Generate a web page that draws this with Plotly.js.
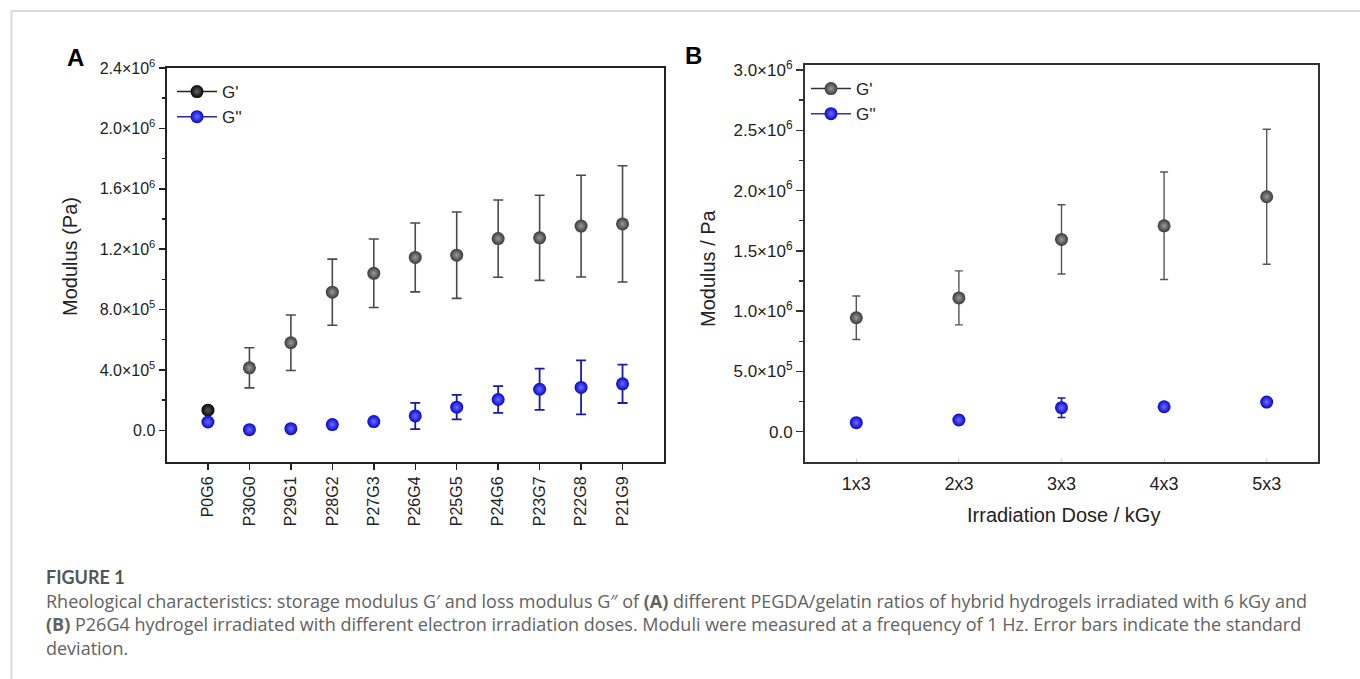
<!DOCTYPE html>
<html>
<head>
<meta charset="utf-8">
<script src="https://cdn.plot.ly/plotly-3.0.1.min.js"></script>
<style>
  html, body { margin: 0; padding: 0; background: #ffffff; }
  #chart { width: 1360px; height: 679px; }
</style>
</head>
<body>
<div id="chart"></div>
<script>
// ---- Panel A data: PEGDA/gelatin ratios (6 kGy) ----
const labelsA = ['P0G6','P30G0','P29G1','P28G2','P27G3','P26G4','P25G5','P24G6','P23G7','P22G8','P21G9'];
const gPrimeA = [1.33e5, 4.14e5, 5.80e5, 9.15e5, 1.04e6, 1.145e6, 1.16e6, 1.27e6, 1.275e6, 1.353e6, 1.367e6];
const gPrimeA_sd = [0, 1.33e5, 1.84e5, 2.19e5, 2.27e5, 2.28e5, 2.86e5, 2.56e5, 2.82e5, 3.37e5, 3.85e5];
const gDoubleA = [5.5e4, 4e3, 1.1e4, 3.8e4, 5.8e4, 9.5e4, 1.53e5, 2.04e5, 2.72e5, 2.84e5, 3.08e5];
const gDoubleA_sd = [0, 0, 0, 0, 0, 8.7e4, 8.1e4, 8.8e4, 1.37e5, 1.79e5, 1.27e5];

// ---- Panel B data: P26G4 at different irradiation doses ----
const dosesB = ['1x3','2x3','3x3','4x3','5x3'];
const gPrimeB = [9.45e5, 1.11e6, 1.595e6, 1.708e6, 1.949e6];
const gPrimeB_sd = [1.8e5, 2.24e5, 2.87e5, 4.46e5, 5.6e5];
const gDoubleB = [7.5e4, 9.7e4, 1.99e5, 2.07e5, 2.46e5];
const gDoubleB_sd = [1e4, 1e4, 8.1e4, 2e4, 2e4];

// ---- Tick labels ----
const yTickValsA = [0, 4e5, 8e5, 1.2e6, 1.6e6, 2.0e6, 2.4e6];
const yTickTextA = ['0.0', '4.0×10<sup>5</sup>', '8.0×10<sup>5</sup>', '1.2×10<sup>6</sup>', '1.6×10<sup>6</sup>', '2.0×10<sup>6</sup>', '2.4×10<sup>6</sup>'];
const yMinorA = [2e5, 6e5, 1.0e6, 1.4e6, 1.8e6, 2.2e6];
const yTickValsB = [0, 5e5, 1.0e6, 1.5e6, 2.0e6, 2.5e6, 3.0e6];
const yTickTextB = ['0.0', '5.0×10<sup>5</sup>', '1.0×10<sup>6</sup>', '1.5×10<sup>6</sup>', '2.0×10<sup>6</sup>', '2.5×10<sup>6</sup>', '3.0×10<sup>6</sup>'];
const yMinorB = [2.5e5, 7.5e5, 1.25e6, 1.75e6, 2.25e6, 2.75e6];

const captionLines = [
  'Rheological characteristics: storage modulus G′ and loss modulus G″ of <b>(A)</b> different PEGDA/gelatin ratios of hybrid hydrogels irradiated with 6 kGy and',
  '<b>(B)</b> P26G4 hydrogel irradiated with different electron irradiation doses. Moduli were measured at a frequency of 1 Hz. Error bars indicate the standard',
  'deviation.'
];

const W = 1360, H = 679;
const px = v => v / W;
const py = v => 1 - v / H;
const AX = '"Liberation Sans", Arial, sans-serif';
const CAP = '"Open Sans", Lato, sans-serif';

const grayMarker = {size: 13, color: '#3a3a3a', gradient: {type: 'radial', color: '#9a9a9a'}, line: {width: 0}};
const blueMarker = {size: 13, color: '#0606cc', gradient: {type: 'radial', color: '#6c6cff'}, line: {width: 0}};

const traces = [
  // Panel A
  {x: labelsA, y: gPrimeA, xaxis: 'x', yaxis: 'y', mode: 'markers', showlegend: false,
   error_y: {type: 'data', array: gPrimeA_sd, visible: true, color: '#4a4a4a', thickness: 1.6, width: 5},
   marker: {size: 13,
            color: labelsA.map((l, i) => i === 0 ? '#050505' : '#3a3a3a'),
            gradient: {type: 'radial', color: labelsA.map((l, i) => i === 0 ? '#555555' : '#9a9a9a')},
            line: {width: 0}}},
  {x: labelsA, y: gDoubleA, xaxis: 'x', yaxis: 'y', mode: 'markers', showlegend: false,
   error_y: {type: 'data', array: gDoubleA_sd, visible: true, color: '#1a1aa8', thickness: 1.8, width: 5},
   marker: blueMarker},
  // Panel A legend entries
  {x: [null], y: [null], xaxis: 'x', yaxis: 'y', mode: 'lines+markers', name: "G'", legend: 'legend',
   line: {color: '#222222', width: 1.5}, marker: {size: 13, color: '#050505', gradient: {type: 'radial', color: '#666666'}}},
  {x: [null], y: [null], xaxis: 'x', yaxis: 'y', mode: 'lines+markers', name: "G''", legend: 'legend',
   line: {color: '#2a2a90', width: 1.5}, marker: blueMarker},
  // Panel B
  {x: dosesB, y: gPrimeB, xaxis: 'x2', yaxis: 'y2', mode: 'markers', showlegend: false,
   error_y: {type: 'data', array: gPrimeB_sd, visible: true, color: '#555555', thickness: 1.4, width: 4},
   marker: grayMarker},
  {x: dosesB, y: gDoubleB, xaxis: 'x2', yaxis: 'y2', mode: 'markers', showlegend: false,
   error_y: {type: 'data', array: gDoubleB_sd, visible: true, color: '#1a1aa8', thickness: 1.6, width: 4},
   marker: blueMarker},
  // Panel B legend entries
  {x: [null], y: [null], xaxis: 'x2', yaxis: 'y2', mode: 'lines+markers', name: "G'", legend: 'legend2',
   line: {color: '#333333', width: 1.5}, marker: grayMarker},
  {x: [null], y: [null], xaxis: 'x2', yaxis: 'y2', mode: 'lines+markers', name: "G''", legend: 'legend2',
   line: {color: '#3030c8', width: 1.5}, marker: blueMarker}
];

const tickFont = {family: AX, size: 16, color: '#222'};

const layout = {
  width: W, height: H,
  margin: {l: 0, r: 0, t: 0, b: 0},
  paper_bgcolor: '#ffffff', plot_bgcolor: '#ffffff',
  showlegend: true,
  xaxis: {
    domain: [px(166.5), px(664)], anchor: 'y', type: 'category', range: [-1, 11],
    showgrid: false, zeroline: false, showline: true, mirror: true, linecolor: '#222', linewidth: 2,
    ticks: 'outside', ticklen: 6, tickwidth: 1.5, tickcolor: '#222', tickangle: -90,
    tickfont: tickFont
  },
  yaxis: {
    domain: [py(462), py(68)], anchor: 'x', range: [-2.1e5, 2.4e6],
    showgrid: false, zeroline: false, showline: true, mirror: true, linecolor: '#222', linewidth: 2,
    tickmode: 'array', tickvals: yTickValsA, ticktext: yTickTextA,
    ticks: 'outside', ticklen: 6, tickwidth: 1.5, tickcolor: '#222',
    minor: {tickmode: 'array', tickvals: yMinorA, ticks: 'outside', ticklen: 3, tickwidth: 1.5, tickcolor: '#222', showgrid: false},
    tickfont: tickFont
  },
  xaxis2: {
    domain: [px(805), px(1318)], anchor: 'y2', type: 'category', range: [-0.5, 4.5],
    showgrid: false, zeroline: false, showline: true, mirror: true, linecolor: '#333', linewidth: 2,
    ticks: 'inside', ticklen: 3, tickwidth: 1, tickcolor: '#cccccc', ticklabelstandoff: 5,
    tickfont: {family: AX, size: 18, color: '#222'}
  },
  yaxis2: {
    domain: [py(461.7), py(64.5)], anchor: 'x2', range: [-2.49e5, 3.046e6],
    showgrid: false, zeroline: false, showline: true, mirror: true, linecolor: '#333', linewidth: 2,
    tickmode: 'array', tickvals: yTickValsB, ticktext: yTickTextB,
    ticks: 'outside', ticklen: 7, tickwidth: 1.5, tickcolor: '#333',
    minor: {tickmode: 'array', tickvals: yMinorB, ticks: 'outside', ticklen: 4, tickwidth: 1.5, tickcolor: '#333', showgrid: false},
    tickfont: {family: AX, size: 17, color: '#222'}
  },
  legend: {
    x: px(172), y: py(74), xanchor: 'left', yanchor: 'top',
    bgcolor: 'rgba(0,0,0,0)', borderwidth: 0, tracegroupgap: 0, itemwidth: 40,
    font: {family: AX, size: 17, color: '#222'}
  },
  legend2: {
    x: px(806), y: py(71), xanchor: 'left', yanchor: 'top',
    bgcolor: 'rgba(0,0,0,0)', borderwidth: 0, tracegroupgap: 0, itemwidth: 40,
    font: {family: AX, size: 17, color: '#222'}
  },
  shapes: [
    {type: 'line', xref: 'paper', yref: 'paper', x0: px(11), x1: 1, y0: py(11), y1: py(11), line: {color: '#dadada', width: 2}},
    {type: 'line', xref: 'paper', yref: 'paper', x0: px(11.5), x1: px(11.5), y0: py(11), y1: 0, line: {color: '#dadada', width: 2}}
  ],
  annotations: [
    {text: '<b>A</b>', xref: 'paper', yref: 'paper', x: px(75), y: py(57), xanchor: 'center', yanchor: 'middle', showarrow: false,
     font: {family: AX, size: 24, color: '#000'}},
    {text: '<b>B</b>', xref: 'paper', yref: 'paper', x: px(693), y: py(55), xanchor: 'center', yanchor: 'middle', showarrow: false,
     font: {family: AX, size: 24, color: '#000'}},
    {text: 'Modulus (Pa)', xref: 'paper', yref: 'paper', x: px(70), y: py(257), xanchor: 'center', yanchor: 'middle', textangle: -90, showarrow: false,
     font: {family: AX, size: 20, color: '#222'}},
    {text: 'Modulus / Pa', xref: 'paper', yref: 'paper', x: px(708), y: py(268), xanchor: 'center', yanchor: 'middle', textangle: -90, showarrow: false,
     font: {family: AX, size: 20, color: '#222'}},
    {text: 'Irradiation Dose / kGy', xref: 'paper', yref: 'paper', x: px(1063), y: py(515), xanchor: 'center', yanchor: 'middle', showarrow: false,
     font: {family: AX, size: 20, color: '#222'}},
    {text: '<b>FIGURE 1</b>', xref: 'paper', yref: 'paper', x: px(44), y: py(577), xanchor: 'left', yanchor: 'middle', showarrow: false,
     font: {family: 'Lato, sans-serif', size: 18, color: '#555555'}},
    {text: captionLines.join('<br>'), xref: 'paper', yref: 'paper', x: px(44), y: py(624), xanchor: 'left', yanchor: 'middle',
     align: 'left', showarrow: false, font: {family: CAP, size: 18, color: '#626262'}}
  ]
};

Plotly.newPlot('chart', traces, layout, {displayModeBar: false, staticPlot: true});
</script>
</body>
</html>
